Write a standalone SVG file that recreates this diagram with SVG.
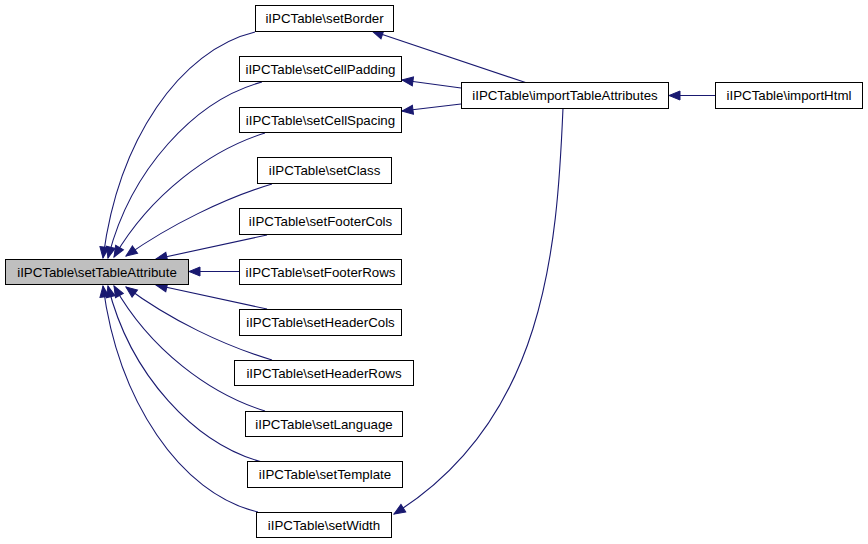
<svg xmlns="http://www.w3.org/2000/svg" width="868" height="544" viewBox="0 0 868 544">
<style>
.node rect{fill:#ffffff;stroke:#000000;stroke-width:1}
.node.hl rect{fill:#bfbfbf}
.node text{font-family:"Liberation Sans",Arial,sans-serif;font-size:13.3px;fill:#000000;text-anchor:middle}
.edges path{fill:none;stroke:#191970;stroke-width:1.1;marker-end:url(#ah)}
</style>
<defs>
<marker id="ah" markerUnits="userSpaceOnUse" markerWidth="14" markerHeight="12" refX="11" refY="5" orient="auto" overflow="visible">
<path d="M0,0.5 L11,5 L0,9.5 z" fill="#191970" stroke="#191970" stroke-width="1"/>
</marker>
</defs>
<rect width="868" height="544" fill="#ffffff"/>
<g class="edges">
<path d="M255,32 C180,50 118,140 103,258"/>
<path d="M262,82 C195,100 130,170 108,258"/>
<path d="M265,133 C210,150 150,195 114,257"/>
<path d="M272,184 C225,198 170,225 126,256"/>
<path d="M267,235 L156,259"/>
<path d="M239,271.5 L189,271.5"/>
<path d="M267,309 L156,285"/>
<path d="M272,360 C225,346 170,320 126,287"/>
<path d="M265,411 C210,394 150,350 114,286"/>
<path d="M262,462 C195,444 130,375 108,286"/>
<path d="M258,512 C180,494 118,400 103,286"/>
<path d="M527,83 L372,31"/>
<path d="M461,88 L402,80"/>
<path d="M461,104 L402,111"/>
<path d="M563,108 C557,250 545,420 394,514"/>
<path d="M715,95.5 L669,95.5"/>
</g>
<g id="node_setTableAttribute" class="node hl"><rect x="5.5" y="259.5" width="183" height="25"/><text x="97" y="276.5">iIPCTable\setTableAttribute</text></g>
<g id="node_setBorder" class="node"><rect x="255.5" y="5.5" width="138" height="26"/><text x="324.5" y="23">iIPCTable\setBorder</text></g>
<g id="node_setCellPadding" class="node"><rect x="239.5" y="56.5" width="162" height="25"/><text x="320.5" y="73.5">iIPCTable\setCellPadding</text></g>
<g id="node_setCellSpacing" class="node"><rect x="239.5" y="107.5" width="162" height="25"/><text x="320.5" y="124.5">iIPCTable\setCellSpacing</text></g>
<g id="node_setClass" class="node"><rect x="257.5" y="157.5" width="134" height="26"/><text x="324.5" y="175">iIPCTable\setClass</text></g>
<g id="node_setFooterCols" class="node"><rect x="239.5" y="208.5" width="162" height="26"/><text x="320.5" y="226">iIPCTable\setFooterCols</text></g>
<g id="node_setFooterRows" class="node"><rect x="239.5" y="259.5" width="162" height="25"/><text x="320.5" y="276.5">iIPCTable\setFooterRows</text></g>
<g id="node_setHeaderCols" class="node"><rect x="239.5" y="309.5" width="162" height="26"/><text x="320.5" y="327">iIPCTable\setHeaderCols</text></g>
<g id="node_setHeaderRows" class="node"><rect x="234.5" y="360.5" width="179" height="25"/><text x="324" y="377.5">iIPCTable\setHeaderRows</text></g>
<g id="node_setLanguage" class="node"><rect x="245.5" y="411.5" width="157" height="25"/><text x="324" y="428.5">iIPCTable\setLanguage</text></g>
<g id="node_setTemplate" class="node"><rect x="247.5" y="461.5" width="155" height="26"/><text x="325" y="479">iIPCTable\setTemplate</text></g>
<g id="node_setWidth" class="node"><rect x="256.5" y="512.5" width="135" height="25"/><text x="324" y="529.5">iIPCTable\setWidth</text></g>
<g id="node_importTableAttributes" class="node"><rect x="461.5" y="82.5" width="207" height="26"/><text x="565" y="100">iIPCTable\importTableAttributes</text></g>
<g id="node_importHtml" class="node"><rect x="715.5" y="82.5" width="147" height="26"/><text x="789" y="100">iIPCTable\importHtml</text></g>
</svg>
